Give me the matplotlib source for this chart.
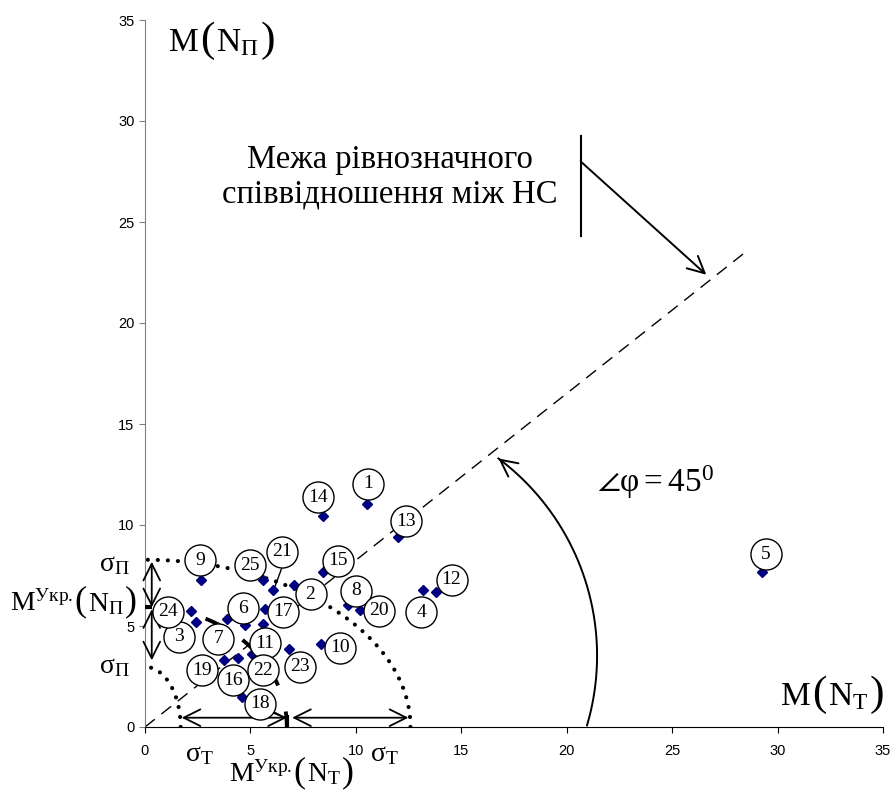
import numpy as np
import matplotlib
matplotlib.use("Agg")
import matplotlib.pyplot as plt
from matplotlib.patches import ArrowStyle
from matplotlib.offsetbox import TextArea, HPacker, AnnotationBbox

plt.rcParams['mathtext.fontset'] = 'custom'
plt.rcParams['mathtext.rm'] = 'Liberation Serif'
plt.rcParams['mathtext.it'] = 'Liberation Serif:italic'
plt.rcParams['mathtext.bf'] = 'Liberation Serif:bold'

# номери НС та їх координати M(N_T), M(N_П)
nomery = list(range(1, 26))
m_t = [10.51, 7.08, 2.42, 13.19, 29.24, 4.74, 3.89, 9.61, 2.64, 8.36,
       5.61, 13.82, 12.00, 8.45, 8.45, 4.41, 5.69, 4.58, 3.76, 10.22,
       6.08, 5.09, 6.84, 2.17, 5.58]
m_p = [11.06, 7.05, 5.19, 6.77, 7.68, 5.04, 5.36, 6.05, 7.27, 4.09,
       5.09, 6.69, 9.39, 10.46, 7.68, 3.43, 5.82, 1.47, 3.30, 5.78,
       6.77, 3.59, 3.84, 5.73, 7.30]

# середні значення та межі
m_ukr_t = 6.73
m_ukr_p = 5.93
mezha_t = [1.69, 12.59]
mezha_p = [2.98, 8.28]

# розміщення підписів з номерами
pidpys_xy = [(10.58, 12.05), (7.85, 6.57), (1.63, 4.46), (13.11, 5.67), (29.43, 8.55),
             (4.63, 5.87), (3.47, 4.38), (10.0, 6.74), (2.61, 8.26), (9.24, 3.92),
             (5.69, 4.14), (14.54, 7.30), (12.40, 10.18), (8.21, 11.38), (9.16, 8.22),
             (4.18, 2.32), (6.55, 5.70), (5.45, 1.14), (2.69, 2.82), (11.10, 5.75),
             (6.48, 8.67), (5.61, 2.82), (7.35, 2.98), (1.10, 5.70), (4.98, 8.01)]


def formula(ax, xy, head, sub, size, align=(0.5, 0.5)):
    # M(N_x) з великими дужками
    tp = dict(family='Liberation Serif', color='black', fontsize=size)
    tb = dict(family='Liberation Serif', color='black', fontsize=size * 1.3)
    parts = [TextArea(head, textprops=tp),
             TextArea('(', textprops=tb),
             TextArea(r'$\mathrm{N}_{\mathrm{%s}}$' % sub, textprops=tp),
             TextArea(')', textprops=tb)]
    box = HPacker(children=parts, align='baseline', pad=0, sep=1)
    ab = AnnotationBbox(box, xy, xycoords='data', frameon=False, pad=0,
                        box_alignment=align, annotation_clip=False)
    ax.add_artist(ab)


fig = plt.figure(figsize=(8.95, 7.92), dpi=100)
ax = fig.add_axes([145 / 895, 1 - 727 / 792, 738 / 895, 707 / 792])
ax.set_xlim(0, 35)
ax.set_ylim(0, 35)
ax.set_xticks(range(0, 36, 5))
ax.set_yticks(range(0, 36, 5))
ax.spines['top'].set_visible(False)
ax.spines['right'].set_visible(False)
ax.spines['left'].set_color('#808080')
ax.spines['bottom'].set_color('black')
ax.tick_params(axis='y', colors='#808080', labelcolor='black', length=4, direction='out')
ax.tick_params(axis='x', colors='black', length=4, direction='out', pad=8)
for lab in ax.get_xticklabels() + ax.get_yticklabels():
    lab.set_fontfamily('Liberation Sans')
    lab.set_fontsize(10.5)
ax.patch.set_alpha(0)

# лінія рівнозначного співвідношення
ax.plot([0, 28.44], [0, 23.48], color='black', lw=1.0, linestyle=(0, (9, 6)), zorder=2)

# еліпси
t = np.linspace(0, np.pi / 2, 200)
ax.plot(m_ukr_t * np.cos(t), m_ukr_p * np.sin(t), color='black', lw=2.8,
        linestyle=(0, (4, 7)), dash_capstyle='butt', zorder=2)
for a, b in zip(mezha_t, mezha_p):
    ax.plot(a * np.cos(t), b * np.sin(t), color='black', lw=3.0,
            linestyle=(0, (0.01, 2.4)), dash_capstyle='round', zorder=2)

# стрілки розкиду
st = ArrowStyle('<->', head_length=0.6, head_width=0.3)
kw = dict(arrowstyle=st, color='black', lw=1.3, shrinkA=0, shrinkB=0, mutation_scale=20)
ax.annotate('', xy=(0.32, mezha_p[1] - 0.1), xytext=(0.32, m_ukr_p), arrowprops=kw, zorder=3)
ax.annotate('', xy=(0.32, m_ukr_p - 0.1), xytext=(0.32, 3.3), arrowprops=kw, zorder=3)
ax.annotate('', xy=(mezha_t[0] + 0.05, 0.46), xytext=(m_ukr_t, 0.46), arrowprops=kw, zorder=3)
ax.annotate('', xy=(m_ukr_t + 0.25, 0.46), xytext=(mezha_t[1] - 0.1, 0.46), arrowprops=kw, zorder=3)
ax.plot([m_ukr_t, m_ukr_t], [0, 0.6], color='black', lw=3, solid_capstyle='butt', zorder=3)
ax.plot([0, 0.35], [m_ukr_p, m_ukr_p], color='black', lw=3, solid_capstyle='butt', zorder=3)

# дуга кута
phi = np.radians(np.linspace(-16.4, 53.1, 300))
arc_x = 9.73 + 11.71 * np.cos(phi)
arc_y = 3.53 + 12.21 * np.sin(phi)
ax.plot(arc_x, arc_y, color='black', lw=1.4, zorder=2)
ax.annotate('', xy=(arc_x[-1], arc_y[-1]), xytext=(arc_x[-6], arc_y[-6]),
            arrowprops=dict(arrowstyle=ArrowStyle('->', head_length=0.6, head_width=0.3),
                            color='black', lw=1.4, shrinkA=0, shrinkB=0, mutation_scale=20))

# виноска до лінії
ax.plot([20.66, 20.66], [24.32, 29.26], color='black', lw=1.5)
ax.annotate('', xy=(26.62, 22.39), xytext=(20.66, 28.0),
            arrowprops=dict(arrowstyle=ArrowStyle('->', head_length=0.6, head_width=0.3),
                            color='black', lw=1.4, shrinkA=0, shrinkB=0, mutation_scale=20))

# точки
ax.plot(m_t, m_p, linestyle='none', marker='D', markersize=5, color='#000080',
        markeredgecolor='#000080', zorder=4)

# виносні лінії підписів
ax.plot([6.48, 6.16], [7.85, 6.94], color='black', lw=1.0, zorder=3)
ax.plot([5.92, 6.72], [0.76, 0.43], color='black', lw=1.0, zorder=3)

# підписи в колах
px, py = zip(*pidpys_xy)
ax.scatter(px, py, s=500, facecolor='white', edgecolor='black', linewidth=1.0, zorder=5)
for n, (x, y) in zip(nomery, pidpys_xy):
    ax.text(x, y, str(n), ha='center', va='center', fontsize=14,
            family='Liberation Serif', zorder=6)

serif = dict(family='Liberation Serif', color='black')
ax.text(11.6, 27.68, 'Межа рівнозначного', ha='center', va='baseline', fontsize=23.5, **serif)
ax.text(11.6, 25.95, 'співвідношення між НС', ha='center', va='baseline', fontsize=23.5, **serif)

formula(ax, (3.65, 33.96), 'M', 'П', 24)
formula(ax, (32.6, 1.58), 'M', 'T', 24)
formula(ax, (-0.38, 6.18), r'$\mathrm{M}^{\mathrm{Укр.}}$', 'П', 20, align=(1, 0.5))
formula(ax, (6.95, -2.27), r'$\mathrm{M}^{\mathrm{Укр.}}$', 'T', 20)

ax.text(24.2, 12.1, r'$\angle\mathrm{φ} = 45^{0}$', ha='center', va='center', fontsize=24,
        **serif)

ax.text(-0.71, 8.06, r'$\mathrm{σ}_{\mathrm{П}}$', ha='right', va='center', fontsize=20,
        clip_on=False, **serif)
ax.text(-0.71, 2.97, r'$\mathrm{σ}_{\mathrm{П}}$', ha='right', va='center', fontsize=20,
        clip_on=False, **serif)
ax.text(2.6, -1.38, r'$\mathrm{σ}_{\mathrm{T}}$', ha='center', va='center', fontsize=20,
        clip_on=False, **serif)
ax.text(11.33, -1.38, r'$\mathrm{σ}_{\mathrm{T}}$', ha='center', va='center', fontsize=20,
        clip_on=False, **serif)

fig.savefig('out.png', dpi=100)
